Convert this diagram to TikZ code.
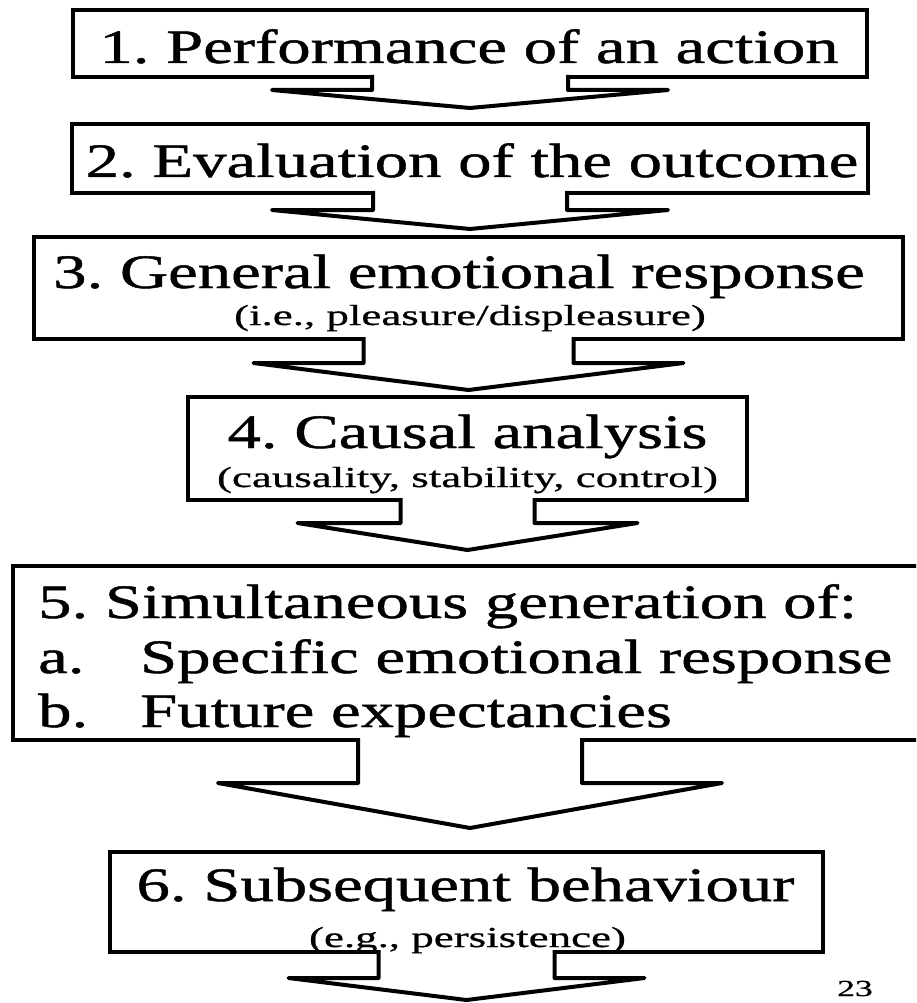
\documentclass[tikz,border=0pt]{standalone}
\usepackage{fontspec}
\setmainfont{Liberation Serif}
\newfontfamily\headfont[FakeStretch=1.39, FakeBold=1]{Liberation Serif}
\newfontfamily\subfont[FakeStretch=1.55, FakeBold=0.8]{Liberation Serif}
\usetikzlibrary{calc}
\frenchspacing

% block arrow: from node, tip target, stem half width, wing half width, drop, gap
\newcommand{\chevron}[6]{%
  \filldraw[chev] ($(#1.south)+(-#3,-2)$) -- ($(#1.south)+(-#3,#5)$)
    -- ($(#1.south)+(-#4,#5)$) -- ($(#1.south |- #2)+(0,-#6)$)
    -- ($(#1.south)+(#4,#5)$) -- ($(#1.south)+(#3,#5)$)
    -- ($(#1.south)+(#3,-2)$);
}

\begin{document}
\begin{tikzpicture}[x=1pt, y=-1pt,
    frame/.style={draw, line width=4.5pt, inner sep=0pt, outer sep=0pt},
    headtxt/.style={anchor=base, inner sep=0pt, font=\headfont\fontsize{48}{56}\selectfont},
    subtxt/.style={anchor=base, inner sep=0pt, font=\subfont\fontsize{29}{34}\selectfont},
    chev/.style={draw, fill=white, line width=4pt, line join=round}
]
    \clip (0,0) rectangle (916,1003);

    \node[frame, minimum width=794pt, minimum height=67pt] (b1) at (470,43.5) {};
    \node[frame, minimum width=796pt, minimum height=69pt] (b2) at (470,158.5) {};
    \node[frame, minimum width=869pt, minimum height=102pt] (b3) at (468.5,288) {};
    \node[frame, minimum width=559pt, minimum height=103pt] (b4) at (467.5,448.5) {};
    \node[frame, minimum width=914pt, minimum height=174pt] (b5) at (470,653) {};
    \node[frame, minimum width=713pt, minimum height=100pt] (b6) at (466.5,902) {};
    \coordinate (fin) at (466.5,1000);

    \chevron{b1}{b2.north}{98}{198}{13}{16}
    \chevron{b2}{b3.north}{97}{198}{17}{8}
    \chevron{b3}{b4.north}{105}{215}{24}{7}
    \chevron{b4}{b5.north}{67}{170}{23}{16}
    \chevron{b5}{b6.north}{112}{252}{43}{24}
    \chevron{b6}{fin}{88}{178}{26}{0}

    \node[headtxt] (t1) at (469,63) {1. Performance of an action};
    \node[headtxt] (t2) at (472,177) {2. Evaluation of the outcome};
    \node[headtxt] (t3) at (459,288) {3. General emotional response};
    \node[subtxt] (s3) at (470,325) {(i.e., pleasure/displeasure)};
    \node[headtxt] (t4) at (467.5,448) {4. Causal analysis};
    \node[subtxt] (s4) at (467.5,487) {(causality, stability, control)};
    \node[headtxt, anchor=base west] (t5) at (38,618) {5. Simultaneous generation of:};
    \node[headtxt, anchor=base west] (t5a) at (38,673) {\makebox[102pt][l]{a.}Specific emotional response};
    \node[headtxt, anchor=base west] (t5b) at (38,727) {\makebox[102pt][l]{b.}Future expectancies};
    \node[headtxt] (t6) at (465.5,901) {6. Subsequent behaviour};
    \node[subtxt] (s6) at (467.5,947) {(e.g., persistence)};
    \node[subtxt, font=\subfont\fontsize{23}{27}\selectfont] (pg) at (855,996) {23};
\end{tikzpicture}
\end{document}
